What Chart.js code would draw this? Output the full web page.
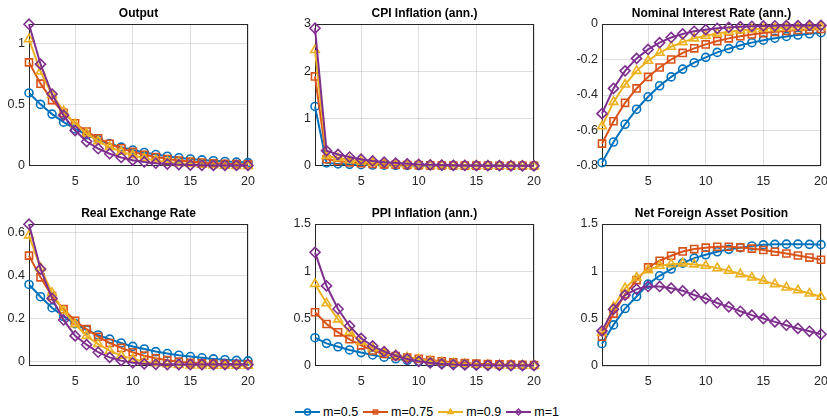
<!DOCTYPE html>
<html>
<head>
<meta charset="utf-8">
<title>Impulse responses</title>
<script src="https://cdn.jsdelivr.net/npm/chart.js@4.4.0/dist/chart.umd.min.js"></script>
<style>
  body { margin: 0; background: #fff; width: 827px; height: 418px; overflow: hidden; position: relative;
         font-family: "Liberation Sans", Arial, Helvetica, sans-serif; }
  canvas.panel { position: absolute; }
  #legend { position: absolute; left: 295px; top: 405px; display: flex; align-items: center;
            font-size: 12.5px; color: #000; line-height: 14px; }
  #legend .item { display: flex; align-items: center; margin-right: 5px; }
  #legend .item canvas { margin-right: 3px; }
</style>
</head>
<body>
<div id="legend"></div>
<script>
// horizon (quarters)
const periods = [1, 2, 3, 4, 5, 6, 7, 8, 9, 10, 11, 12, 13, 14, 15, 16, 17, 18, 19, 20];
const xTicks = [5, 10, 15, 20];
const seriesNames = ['m=0.5', 'm=0.75', 'm=0.9', 'm=1'];

// Output
const output_m05  = [0.594, 0.500, 0.420, 0.354, 0.298, 0.250, 0.210, 0.177, 0.149, 0.125, 0.105, 0.088, 0.074, 0.062, 0.052, 0.044, 0.037, 0.031, 0.026, 0.022];
const output_m075 = [0.845, 0.670, 0.535, 0.430, 0.345, 0.277, 0.222, 0.176, 0.140, 0.110, 0.086, 0.067, 0.051, 0.039, 0.030, 0.022, 0.016, 0.012, 0.009, 0.007];
const output_m09  = [1.035, 0.770, 0.580, 0.445, 0.338, 0.260, 0.197, 0.150, 0.112, 0.082, 0.058, 0.040, 0.027, 0.017, 0.010, 0.004, 0.000, -0.003, -0.005, -0.006];
const output_m1   = [1.158, 0.830, 0.585, 0.410, 0.285, 0.195, 0.136, 0.095, 0.064, 0.042, 0.027, 0.017, 0.010, 0.005, 0.002, 0.000, -0.001, -0.001, -0.001, -0.001];
const outputTicks = [0, 0.5, 1];

// CPI inflation
const cpi_m05  = [1.255, 0.060, 0.040, 0.030, 0.022, 0.016, 0.012, 0.009, 0.007, 0.005, 0.004, 0.003, 0.002, 0.002, 0.001, 0.001, 0.001, 0.000, 0.000, 0.000];
const cpi_m075 = [1.890, 0.140, 0.100, 0.072, 0.053, 0.040, 0.030, 0.022, 0.016, 0.012, 0.009, 0.006, 0.005, 0.003, 0.002, 0.002, 0.001, 0.001, 0.000, 0.000];
const cpi_m09  = [2.450, 0.210, 0.160, 0.120, 0.090, 0.066, 0.049, 0.036, 0.026, 0.018, 0.012, 0.008, 0.005, 0.003, 0.001, 0.000, -0.001, -0.001, -0.002, -0.002];
const cpi_m1   = [2.910, 0.320, 0.240, 0.185, 0.140, 0.102, 0.076, 0.056, 0.041, 0.029, 0.020, 0.014, 0.009, 0.006, 0.004, 0.002, 0.001, 0.000, 0.000, 0.000];
const cpiTicks = [0, 1, 2, 3];

// Nominal interest rate
const rate_m05  = [-0.781, -0.665, -0.565, -0.480, -0.410, -0.348, -0.298, -0.254, -0.218, -0.188, -0.160, -0.139, -0.120, -0.105, -0.091, -0.080, -0.070, -0.062, -0.055, -0.049];
const rate_m075 = [-0.674, -0.548, -0.444, -0.363, -0.298, -0.245, -0.200, -0.163, -0.137, -0.115, -0.096, -0.081, -0.069, -0.059, -0.051, -0.044, -0.039, -0.034, -0.031, -0.028];
const rate_m09  = [-0.576, -0.439, -0.341, -0.264, -0.207, -0.162, -0.128, -0.102, -0.081, -0.066, -0.053, -0.044, -0.036, -0.030, -0.026, -0.023, -0.021, -0.019, -0.017, -0.016];
const rate_m1   = [-0.505, -0.363, -0.264, -0.194, -0.143, -0.105, -0.076, -0.056, -0.041, -0.032, -0.024, -0.019, -0.015, -0.013, -0.011, -0.010, -0.009, -0.009, -0.008, -0.008];
const rateTicks = [-0.8, -0.6, -0.4, -0.2, 0];

// Real exchange rate
const rer_m05  = [0.357, 0.300, 0.249, 0.208, 0.175, 0.145, 0.122, 0.103, 0.085, 0.069, 0.057, 0.045, 0.036, 0.028, 0.022, 0.016, 0.011, 0.007, 0.004, 0.002];
const rer_m075 = [0.491, 0.390, 0.303, 0.242, 0.188, 0.149, 0.114, 0.085, 0.062, 0.042, 0.026, 0.014, 0.005, -0.002, -0.007, -0.010, -0.012, -0.013, -0.014, -0.014];
const rer_m09  = [0.585, 0.434, 0.318, 0.234, 0.172, 0.118, 0.080, 0.049, 0.026, 0.011, -0.002, -0.009, -0.014, -0.017, -0.019, -0.020, -0.021, -0.021, -0.021, -0.021];
const rer_m1   = [0.637, 0.429, 0.292, 0.192, 0.118, 0.077, 0.042, 0.018, 0.003, -0.007, -0.012, -0.014, -0.015, -0.015, -0.015, -0.015, -0.015, -0.015, -0.015, -0.015];
const rerTicks = [0, 0.2, 0.4, 0.6];

// PPI inflation
const ppi_m05  = [0.296, 0.236, 0.200, 0.166, 0.138, 0.113, 0.090, 0.072, 0.056, 0.043, 0.033, 0.025, 0.019, 0.014, 0.011, 0.008, 0.006, 0.005, 0.004, 0.003];
const ppi_m075 = [0.565, 0.441, 0.353, 0.279, 0.215, 0.160, 0.124, 0.100, 0.085, 0.072, 0.059, 0.046, 0.035, 0.028, 0.021, 0.017, 0.013, 0.010, 0.008, 0.007];
const ppi_m09  = [0.865, 0.660, 0.490, 0.357, 0.254, 0.184, 0.138, 0.109, 0.088, 0.067, 0.049, 0.035, 0.025, 0.017, 0.011, 0.007, 0.004, 0.002, 0.001, 0.000];
const ppi_m1   = [1.200, 0.844, 0.600, 0.420, 0.289, 0.208, 0.148, 0.106, 0.071, 0.046, 0.028, 0.018, 0.011, 0.007, 0.005, 0.003, 0.002, 0.001, 0.001, 0.000];
const ppiTicks = [0, 0.5, 1, 1.5];

// Net foreign asset position
const nfa_m05  = [0.236, 0.434, 0.607, 0.734, 0.865, 0.953, 1.024, 1.087, 1.140, 1.175, 1.207, 1.232, 1.250, 1.268, 1.280, 1.285, 1.287, 1.287, 1.285, 1.282];
const nfa_m075 = [0.310, 0.554, 0.759, 0.907, 1.041, 1.112, 1.165, 1.210, 1.235, 1.250, 1.260, 1.260, 1.253, 1.240, 1.225, 1.207, 1.188, 1.167, 1.145, 1.122];
const nfa_m09  = [0.353, 0.625, 0.822, 0.935, 1.013, 1.059, 1.076, 1.084, 1.073, 1.059, 1.034, 1.006, 0.971, 0.935, 0.900, 0.865, 0.830, 0.800, 0.766, 0.731];
const nfa_m1   = [0.371, 0.600, 0.748, 0.812, 0.840, 0.840, 0.822, 0.794, 0.750, 0.713, 0.666, 0.625, 0.578, 0.537, 0.501, 0.466, 0.431, 0.397, 0.367, 0.335];
const nfaTicks = [0, 0.5, 1, 1.5];

// MATLAB default line colours and markers
const colors = ['#0072BD', '#D95319', '#EDB120', '#7E2F8E'];
const markers = ['circle', 'rect', 'triangle', 'rectRot'];
const markerSizes = [4, 5, 5, 5];

const FONT = '"Liberation Sans", Arial, Helvetica, sans-serif';
const TITLE_H = 24, AXIS_H = 24, PLOT_W = 219, PLOT_H = 142, PAD_R = 7;

const panels = [
  { title: 'Output', series: [output_m05, output_m075, output_m09, output_m1], ticks: outputTicks,
    min: -0.006, max: 1.16, left: 0, top: 0, yw: 29 },
  { title: 'CPI Inflation (ann.)', series: [cpi_m05, cpi_m075, cpi_m09, cpi_m1], ticks: cpiTicks,
    min: -0.005, max: 3, left: 285, top: 0, yw: 30 },
  { title: 'Nominal Interest Rate (ann.)', series: [rate_m05, rate_m075, rate_m09, rate_m1], ticks: rateTicks,
    min: -0.8, max: 0, left: 572, top: 0, yw: 30 },
  { title: 'Real Exchange Rate', series: [rer_m05, rer_m075, rer_m09, rer_m1], ticks: rerTicks,
    min: -0.022, max: 0.638, left: 0, top: 200, yw: 29 },
  { title: 'PPI Inflation (ann.)', series: [ppi_m05, ppi_m075, ppi_m09, ppi_m1], ticks: ppiTicks,
    min: -0.004, max: 1.5, left: 285, top: 200, yw: 30 },
  { title: 'Net Foreign Asset Position', series: [nfa_m05, nfa_m075, nfa_m09, nfa_m1], ticks: nfaTicks,
    min: 0, max: 1.5, left: 572, top: 200, yw: 30 }
];

// dark box around each axes, drawn under the lines
const axesBox = {
  id: 'axesBox',
  beforeDatasetsDraw(chart) {
    const a = chart.chartArea, ctx = chart.ctx;
    ctx.save();
    ctx.strokeStyle = '#262626';
    ctx.lineWidth = 1;
    ctx.strokeRect(Math.round(a.left) + 0.5, Math.round(a.top) + 0.5,
                   Math.round(a.right - a.left) - 1, Math.round(a.bottom - a.top) - 1);
    ctx.restore();
  }
};

function fmt(v) {
  return String(Number(v.toFixed(2)));
}

panels.forEach(p => {
  const canvas = document.createElement('canvas');
  canvas.className = 'panel';
  canvas.width = p.yw + PLOT_W + PAD_R;
  canvas.height = TITLE_H + PLOT_H + AXIS_H;
  canvas.style.left = p.left + 'px';
  canvas.style.top = p.top + 'px';
  document.body.appendChild(canvas);

  const datasets = p.series.map((vals, i) => ({
    label: seriesNames[i],
    data: periods.map((t, k) => ({ x: t, y: vals[k] })),
    borderColor: colors[i],
    borderWidth: 2,
    pointStyle: markers[i],
    pointRadius: markerSizes[i],
    pointBorderColor: colors[i],
    pointBackgroundColor: 'rgba(255,255,255,0)',
    pointBorderWidth: 1.6,
    tension: 0,
    clip: false,
    order: 3 - i
  }));

  new Chart(canvas, {
    type: 'line',
    data: { datasets },
    plugins: [axesBox],
    options: {
      responsive: false,
      animation: false,
      events: [],
      layout: { padding: { left: 0, top: 0, right: PAD_R, bottom: 0 } },
      plugins: {
        legend: { display: false },
        tooltip: { enabled: false },
        title: {
          display: true,
          text: p.title,
          fullSize: false,
          color: '#000',
          font: { family: FONT, size: 12, weight: 'bold', lineHeight: 1 },
          padding: { top: 8, bottom: 4 }
        }
      },
      scales: {
        x: {
          type: 'linear',
          min: 1,
          max: 20,
          afterBuildTicks: s => { s.ticks = xTicks.map(v => ({ value: v })); },
          afterFit: s => { s.height = AXIS_H; s.paddingLeft = 0; s.paddingRight = 0; },
          grid: { color: 'rgba(38,38,38,0.15)', drawTicks: false },
          border: { display: false },
          ticks: { color: '#262626', padding: 8, maxRotation: 0, autoSkip: false,
                   font: { family: FONT, size: 12.5 }, callback: v => fmt(v) }
        },
        y: {
          min: p.min,
          max: p.max,
          afterBuildTicks: s => { s.ticks = p.ticks.map(v => ({ value: v })); },
          afterFit: s => { s.width = p.yw; s.paddingTop = 0; s.paddingBottom = 0; },
          grid: { color: 'rgba(38,38,38,0.15)', drawTicks: false },
          border: { display: false },
          ticks: { color: '#262626', padding: 4, autoSkip: false,
                   font: { family: FONT, size: 12.5 }, callback: v => fmt(v) }
        }
      }
    }
  });
});

// legend row under the panels
const legend = document.getElementById('legend');
seriesNames.forEach((name, i) => {
  const item = document.createElement('div');
  item.className = 'item';
  const sw = document.createElement('canvas');
  sw.width = 25;
  sw.height = 12;
  const ctx = sw.getContext('2d');
  ctx.strokeStyle = colors[i];
  ctx.lineWidth = 2;
  ctx.beginPath();
  ctx.moveTo(0, 6);
  ctx.lineTo(25, 6);
  ctx.stroke();
  ctx.fillStyle = 'rgba(255,255,255,0)';
  ctx.lineWidth = 1.5;
  Chart.helpers.drawPoint(ctx, { pointStyle: markers[i], radius: 3, rotation: 0, borderWidth: 1.5 }, 12.5, 6);
  const label = document.createElement('span');
  label.textContent = name;
  item.appendChild(sw);
  item.appendChild(label);
  legend.appendChild(item);
});
</script>
</body>
</html>
